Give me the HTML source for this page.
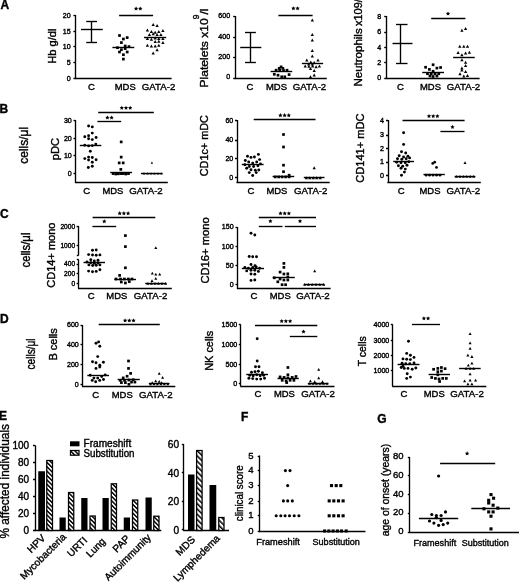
<!DOCTYPE html>
<html><head><meta charset="utf-8"><style>
html,body{margin:0;padding:0;background:#fff;}
svg{display:block;filter:blur(0.3px);}
text{font-family:"Liberation Sans", sans-serif;fill:#000;stroke:#000;stroke-width:0.38px;}
</style></head><body>
<svg width="520" height="582" viewBox="0 0 520 582">
<rect x="0" y="0" width="520" height="582" fill="#fff" stroke="none"/>
<g fill="#000">
<text x="0.50" y="8.60" font-size="12" font-weight="bold">A</text>
<text x="-0.50" y="112.90" font-size="12" font-weight="bold">B</text>
<text x="0.10" y="217.90" font-size="12" font-weight="bold">C</text>
<text x="0.10" y="322.70" font-size="12" font-weight="bold">D</text>
<text x="-0.90" y="420.40" font-size="12" font-weight="bold">E</text>
<text x="240.90" y="420.80" font-size="12" font-weight="bold">F</text>
<text x="377.30" y="422.50" font-size="12" font-weight="bold">G</text>
<line x1="75.50" y1="15.00" x2="75.50" y2="78.40" stroke="#000" stroke-width="1.35"/>
<line x1="73.40" y1="15.50" x2="75.40" y2="15.50" stroke="#000" stroke-width="1.35"/>
<text x="70.60" y="17.96" font-size="7.1" text-anchor="end">20</text>
<line x1="73.40" y1="31.50" x2="75.40" y2="31.50" stroke="#000" stroke-width="1.35"/>
<text x="70.60" y="33.96" font-size="7.1" text-anchor="end">15</text>
<line x1="73.40" y1="46.50" x2="75.40" y2="46.50" stroke="#000" stroke-width="1.35"/>
<text x="70.60" y="49.46" font-size="7.1" text-anchor="end">10</text>
<line x1="73.40" y1="62.50" x2="75.40" y2="62.50" stroke="#000" stroke-width="1.35"/>
<text x="70.60" y="65.26" font-size="7.1" text-anchor="end">5</text>
<line x1="73.40" y1="78.50" x2="75.40" y2="78.50" stroke="#000" stroke-width="1.35"/>
<text x="70.60" y="81.06" font-size="7.1" text-anchor="end">0</text>
<line x1="74.80" y1="78.50" x2="171.60" y2="78.50" stroke="#000" stroke-width="1.35"/>
<text x="91.50" y="90.20" font-size="9.6" text-anchor="middle" textLength="6.90" lengthAdjust="spacingAndGlyphs">C</text>
<text x="125.20" y="90.20" font-size="9.6" text-anchor="middle" textLength="21.00" lengthAdjust="spacingAndGlyphs">MDS</text>
<text x="158.60" y="90.20" font-size="9.6" text-anchor="middle" textLength="33.50" lengthAdjust="spacingAndGlyphs">GATA-2</text>
<text transform="translate(55.80,46.20) rotate(-90)" x="0" y="0" font-size="11" text-anchor="middle" textLength="35.20" lengthAdjust="spacingAndGlyphs">Hb g/dl</text>
<line x1="81.00" y1="29.50" x2="102.80" y2="29.50" stroke="#000" stroke-width="1.4"/>
<line x1="91.50" y1="21.70" x2="91.50" y2="42.20" stroke="#000" stroke-width="1.35"/>
<line x1="86.20" y1="21.50" x2="97.00" y2="21.50" stroke="#000" stroke-width="1.35"/>
<line x1="86.20" y1="42.50" x2="97.00" y2="42.50" stroke="#000" stroke-width="1.35"/>
<rect x="118.15" y="34.15" width="2.7" height="2.7"/>
<rect x="122.05" y="37.65" width="2.7" height="2.7"/>
<rect x="125.85" y="36.25" width="2.7" height="2.7"/>
<rect x="120.05" y="41.25" width="2.7" height="2.7"/>
<rect x="123.85" y="44.65" width="2.7" height="2.7"/>
<rect x="127.65" y="45.25" width="2.7" height="2.7"/>
<rect x="116.15" y="46.35" width="2.7" height="2.7"/>
<rect x="120.05" y="48.35" width="2.7" height="2.7"/>
<rect x="123.85" y="47.25" width="2.7" height="2.7"/>
<rect x="118.15" y="50.65" width="2.7" height="2.7"/>
<rect x="125.85" y="50.65" width="2.7" height="2.7"/>
<rect x="122.05" y="53.35" width="2.7" height="2.7"/>
<rect x="122.05" y="57.75" width="2.7" height="2.7"/>
<line x1="112.40" y1="47.50" x2="134.30" y2="47.50" stroke="#000" stroke-width="1.4"/>
<path d="M153.20,22.91L154.85,25.88L151.55,25.88Z"/>
<path d="M157.10,24.02L158.75,26.98L155.45,26.98Z"/>
<path d="M147.40,28.62L149.05,31.59L145.75,31.59Z"/>
<path d="M151.40,30.12L153.05,33.09L149.75,33.09Z"/>
<path d="M155.20,30.72L156.85,33.69L153.55,33.69Z"/>
<path d="M158.80,30.12L160.45,33.09L157.15,33.09Z"/>
<path d="M162.90,29.02L164.55,31.98L161.25,31.98Z"/>
<path d="M149.40,33.02L151.05,35.98L147.75,35.98Z"/>
<path d="M153.20,32.31L154.85,35.28L151.55,35.28Z"/>
<path d="M157.10,33.02L158.75,35.98L155.45,35.98Z"/>
<path d="M160.90,33.02L162.55,35.98L159.25,35.98Z"/>
<path d="M147.40,37.12L149.05,40.09L145.75,40.09Z"/>
<path d="M151.40,37.72L153.05,40.69L149.75,40.69Z"/>
<path d="M155.20,36.62L156.85,39.59L153.55,39.59Z"/>
<path d="M158.80,37.12L160.45,40.09L157.15,40.09Z"/>
<path d="M162.90,37.12L164.55,40.09L161.25,40.09Z"/>
<path d="M155.20,40.12L156.85,43.09L153.55,43.09Z"/>
<path d="M158.80,39.72L160.45,42.69L157.15,42.69Z"/>
<path d="M162.90,41.12L164.55,44.09L161.25,44.09Z"/>
<path d="M147.40,43.81L149.05,46.78L145.75,46.78Z"/>
<path d="M151.40,44.52L153.05,47.48L149.75,47.48Z"/>
<path d="M155.20,44.52L156.85,47.48L153.55,47.48Z"/>
<path d="M158.80,43.81L160.45,46.78L157.15,46.78Z"/>
<path d="M157.10,48.22L158.75,51.19L155.45,51.19Z"/>
<path d="M153.20,51.62L154.85,54.59L151.55,54.59Z"/>
<line x1="144.00" y1="37.50" x2="166.20" y2="37.50" stroke="#000" stroke-width="1.4"/>
<line x1="119.10" y1="15.50" x2="153.10" y2="15.50" stroke="#000" stroke-width="1.35"/>
<polygon points="136.10,6.40 136.75,7.76 138.24,7.95 137.15,8.99 137.42,10.47 136.10,9.75 134.78,10.47 135.05,8.99 133.96,7.95 135.45,7.76"/>
<polygon points="140.30,6.40 140.95,7.76 142.44,7.95 141.35,8.99 141.62,10.47 140.30,9.75 138.98,10.47 139.25,8.99 138.16,7.95 139.65,7.76"/>
<line x1="235.50" y1="16.00" x2="235.50" y2="78.00" stroke="#000" stroke-width="1.35"/>
<line x1="233.20" y1="16.50" x2="235.20" y2="16.50" stroke="#000" stroke-width="1.35"/>
<text x="230.10" y="17.76" font-size="7.1" text-anchor="end">600</text>
<line x1="233.20" y1="37.50" x2="235.20" y2="37.50" stroke="#000" stroke-width="1.35"/>
<text x="230.10" y="38.66" font-size="7.1" text-anchor="end">400</text>
<line x1="233.20" y1="57.50" x2="235.20" y2="57.50" stroke="#000" stroke-width="1.35"/>
<text x="230.10" y="59.16" font-size="7.1" text-anchor="end">200</text>
<line x1="233.20" y1="78.50" x2="235.20" y2="78.50" stroke="#000" stroke-width="1.35"/>
<text x="230.10" y="79.36" font-size="7.1" text-anchor="end">0</text>
<line x1="234.60" y1="78.50" x2="326.80" y2="78.50" stroke="#000" stroke-width="1.35"/>
<text x="250.00" y="90.20" font-size="9.6" text-anchor="middle" textLength="6.90" lengthAdjust="spacingAndGlyphs">C</text>
<text x="276.50" y="90.20" font-size="9.6" text-anchor="middle" textLength="21.00" lengthAdjust="spacingAndGlyphs">MDS</text>
<text x="309.50" y="90.20" font-size="9.6" text-anchor="middle" textLength="33.50" lengthAdjust="spacingAndGlyphs">GATA-2</text>
<text transform="translate(207.60,87.50) rotate(-90)" x="0" y="0" font-size="11.5" textLength="69.20" lengthAdjust="spacingAndGlyphs">Platelets x10</text>
<text transform="translate(199.30,19.30) rotate(-90)" x="0" y="0" font-size="8.6">9</text>
<text transform="translate(207.60,14.40) rotate(-90)" x="0" y="0" font-size="11.5">/l</text>
<line x1="240.20" y1="47.50" x2="261.30" y2="47.50" stroke="#000" stroke-width="1.4"/>
<line x1="250.50" y1="32.00" x2="250.50" y2="62.80" stroke="#000" stroke-width="1.35"/>
<line x1="245.00" y1="32.50" x2="255.90" y2="32.50" stroke="#000" stroke-width="1.35"/>
<line x1="245.00" y1="62.50" x2="255.90" y2="62.50" stroke="#000" stroke-width="1.35"/>
<rect x="279.75" y="65.55" width="2.7" height="2.7"/>
<rect x="277.85" y="67.05" width="2.7" height="2.7"/>
<rect x="281.55" y="67.05" width="2.7" height="2.7"/>
<rect x="274.75" y="68.85" width="2.7" height="2.7"/>
<rect x="278.45" y="68.85" width="2.7" height="2.7"/>
<rect x="282.25" y="69.25" width="2.7" height="2.7"/>
<rect x="285.65" y="68.85" width="2.7" height="2.7"/>
<rect x="272.95" y="72.95" width="2.7" height="2.7"/>
<rect x="276.65" y="73.85" width="2.7" height="2.7"/>
<rect x="280.35" y="75.45" width="2.7" height="2.7"/>
<rect x="283.45" y="75.45" width="2.7" height="2.7"/>
<rect x="287.75" y="73.25" width="2.7" height="2.7"/>
<line x1="270.60" y1="71.50" x2="292.20" y2="71.50" stroke="#000" stroke-width="1.4"/>
<path d="M312.30,18.62L313.95,21.59L310.65,21.59Z"/>
<path d="M312.30,32.91L313.95,35.88L310.65,35.88Z"/>
<path d="M312.30,38.62L313.95,41.59L310.65,41.59Z"/>
<path d="M312.30,49.12L313.95,52.09L310.65,52.09Z"/>
<path d="M312.30,54.52L313.95,57.48L310.65,57.48Z"/>
<path d="M306.80,58.41L308.45,61.38L305.15,61.38Z"/>
<path d="M318.00,58.41L319.65,61.38L316.35,61.38Z"/>
<path d="M310.80,60.52L312.45,63.48L309.15,63.48Z"/>
<path d="M314.20,61.12L315.85,64.09L312.55,64.09Z"/>
<path d="M308.70,62.61L310.35,65.58L307.05,65.58Z"/>
<path d="M312.40,62.61L314.05,65.58L310.75,65.58Z"/>
<path d="M305.20,64.42L306.85,67.39L303.55,67.39Z"/>
<path d="M308.90,64.81L310.55,67.78L307.25,67.78Z"/>
<path d="M312.60,64.42L314.25,67.39L310.95,67.39Z"/>
<path d="M316.10,65.22L317.75,68.19L314.45,68.19Z"/>
<path d="M319.40,64.42L321.05,67.39L317.75,67.39Z"/>
<path d="M310.50,66.92L312.15,69.89L308.85,69.89Z"/>
<path d="M314.20,69.11L315.85,72.08L312.55,72.08Z"/>
<path d="M314.20,73.52L315.85,76.48L312.55,76.48Z"/>
<path d="M310.50,75.31L312.15,78.28L308.85,78.28Z"/>
<line x1="301.90" y1="63.50" x2="323.10" y2="63.50" stroke="#000" stroke-width="1.4"/>
<line x1="278.40" y1="15.50" x2="312.60" y2="15.50" stroke="#000" stroke-width="1.35"/>
<polygon points="293.40,6.20 294.05,7.56 295.54,7.75 294.45,8.79 294.72,10.27 293.40,9.55 292.08,10.27 292.35,8.79 291.26,7.75 292.75,7.56"/>
<polygon points="297.60,6.20 298.25,7.56 299.74,7.75 298.65,8.79 298.92,10.27 297.60,9.55 296.28,10.27 296.55,8.79 295.46,7.75 296.95,7.56"/>
<line x1="386.50" y1="16.00" x2="386.50" y2="78.10" stroke="#000" stroke-width="1.35"/>
<line x1="384.20" y1="16.50" x2="386.20" y2="16.50" stroke="#000" stroke-width="1.35"/>
<text x="381.30" y="18.76" font-size="7.1" text-anchor="end">8</text>
<line x1="384.20" y1="32.50" x2="386.20" y2="32.50" stroke="#000" stroke-width="1.35"/>
<text x="381.30" y="34.36" font-size="7.1" text-anchor="end">6</text>
<line x1="384.20" y1="47.50" x2="386.20" y2="47.50" stroke="#000" stroke-width="1.35"/>
<text x="381.30" y="49.86" font-size="7.1" text-anchor="end">4</text>
<line x1="384.20" y1="62.50" x2="386.20" y2="62.50" stroke="#000" stroke-width="1.35"/>
<text x="381.30" y="64.76" font-size="7.1" text-anchor="end">2</text>
<line x1="384.20" y1="78.50" x2="386.20" y2="78.50" stroke="#000" stroke-width="1.35"/>
<text x="381.30" y="80.46" font-size="7.1" text-anchor="end">0</text>
<line x1="385.60" y1="78.50" x2="479.60" y2="78.50" stroke="#000" stroke-width="1.35"/>
<text x="400.50" y="90.20" font-size="9.6" text-anchor="middle" textLength="6.90" lengthAdjust="spacingAndGlyphs">C</text>
<text x="430.50" y="90.20" font-size="9.6" text-anchor="middle" textLength="21.00" lengthAdjust="spacingAndGlyphs">MDS</text>
<text x="463.50" y="90.20" font-size="9.6" text-anchor="middle" textLength="33.50" lengthAdjust="spacingAndGlyphs">GATA-2</text>
<text transform="translate(362.10,86.60) rotate(-90)" x="0" y="0" font-size="11.0" textLength="58.30" lengthAdjust="spacingAndGlyphs">Neutrophils</text>
<text transform="translate(362.10,26.10) rotate(-90)" x="0" y="0" font-size="11.0">x109/l</text>
<line x1="392.50" y1="43.50" x2="412.50" y2="43.50" stroke="#000" stroke-width="1.4"/>
<line x1="400.50" y1="24.00" x2="400.50" y2="63.00" stroke="#000" stroke-width="1.35"/>
<line x1="396.00" y1="24.50" x2="407.50" y2="24.50" stroke="#000" stroke-width="1.35"/>
<line x1="396.00" y1="63.50" x2="407.50" y2="63.50" stroke="#000" stroke-width="1.35"/>
<rect x="431.75" y="63.40" width="2.7" height="2.7"/>
<rect x="424.25" y="65.90" width="2.7" height="2.7"/>
<rect x="428.05" y="68.05" width="2.7" height="2.7"/>
<rect x="435.55" y="66.75" width="2.7" height="2.7"/>
<rect x="439.25" y="66.15" width="2.7" height="2.7"/>
<rect x="431.75" y="69.90" width="2.7" height="2.7"/>
<rect x="426.15" y="72.40" width="2.7" height="2.7"/>
<rect x="429.90" y="72.40" width="2.7" height="2.7"/>
<rect x="433.65" y="72.40" width="2.7" height="2.7"/>
<rect x="437.40" y="72.40" width="2.7" height="2.7"/>
<rect x="428.65" y="74.65" width="2.7" height="2.7"/>
<rect x="431.75" y="75.15" width="2.7" height="2.7"/>
<rect x="435.55" y="74.65" width="2.7" height="2.7"/>
<line x1="422.25" y1="72.50" x2="444.00" y2="72.50" stroke="#000" stroke-width="1.4"/>
<path d="M461.90,28.82L463.55,31.79L460.25,31.79Z"/>
<path d="M465.60,27.02L467.25,29.98L463.95,29.98Z"/>
<path d="M459.80,44.81L461.45,47.78L458.15,47.78Z"/>
<path d="M463.80,44.81L465.45,47.78L462.15,47.78Z"/>
<path d="M467.50,44.81L469.15,47.78L465.85,47.78Z"/>
<path d="M458.10,51.02L459.75,53.98L456.45,53.98Z"/>
<path d="M461.90,53.31L463.55,56.28L460.25,56.28Z"/>
<path d="M465.60,51.62L467.25,54.59L463.95,54.59Z"/>
<path d="M469.40,50.81L471.05,53.78L467.75,53.78Z"/>
<path d="M461.90,58.31L463.55,61.28L460.25,61.28Z"/>
<path d="M465.60,60.81L467.25,63.78L463.95,63.78Z"/>
<path d="M465.60,64.11L467.25,67.08L463.95,67.08Z"/>
<path d="M461.90,66.61L463.55,69.58L460.25,69.58Z"/>
<path d="M461.90,68.52L463.55,71.48L460.25,71.48Z"/>
<path d="M465.60,70.02L467.25,72.98L463.95,72.98Z"/>
<path d="M460.00,72.31L461.65,75.28L458.35,75.28Z"/>
<path d="M463.80,74.52L465.45,77.48L462.15,77.48Z"/>
<path d="M467.50,74.11L469.15,77.08L465.85,77.08Z"/>
<line x1="453.10" y1="57.50" x2="474.75" y2="57.50" stroke="#000" stroke-width="1.4"/>
<line x1="431.20" y1="18.50" x2="465.40" y2="18.50" stroke="#000" stroke-width="1.35"/>
<polygon points="448.00,11.40 448.65,12.76 450.14,12.95 449.05,13.99 449.32,15.47 448.00,14.75 446.68,15.47 446.95,13.99 445.86,12.95 447.35,12.76"/>
<text transform="translate(27.90,145.35) rotate(-90)" x="0" y="0" font-size="12" text-anchor="middle" textLength="36.90" lengthAdjust="spacingAndGlyphs">cells/μl</text>
<line x1="75.50" y1="120.00" x2="75.50" y2="182.50" stroke="#000" stroke-width="1.35"/>
<line x1="73.50" y1="120.50" x2="75.50" y2="120.50" stroke="#000" stroke-width="1.35"/>
<text x="71.80" y="122.66" font-size="7.1" text-anchor="end">30</text>
<line x1="73.50" y1="138.50" x2="75.50" y2="138.50" stroke="#000" stroke-width="1.35"/>
<text x="71.80" y="140.56" font-size="7.1" text-anchor="end">20</text>
<line x1="73.50" y1="155.50" x2="75.50" y2="155.50" stroke="#000" stroke-width="1.35"/>
<text x="71.80" y="158.16" font-size="7.1" text-anchor="end">10</text>
<line x1="73.50" y1="173.50" x2="75.50" y2="173.50" stroke="#000" stroke-width="1.35"/>
<text x="71.80" y="175.66" font-size="7.1" text-anchor="end">0</text>
<line x1="74.90" y1="182.50" x2="167.80" y2="182.50" stroke="#000" stroke-width="1.35"/>
<text x="86.80" y="193.70" font-size="9.6" text-anchor="middle" textLength="6.90" lengthAdjust="spacingAndGlyphs">C</text>
<text x="112.90" y="193.70" font-size="9.6" text-anchor="middle" textLength="21.00" lengthAdjust="spacingAndGlyphs">MDS</text>
<text x="146.00" y="193.70" font-size="9.6" text-anchor="middle" textLength="33.50" lengthAdjust="spacingAndGlyphs">GATA-2</text>
<text transform="translate(58.60,149.00) rotate(-90)" x="0" y="0" font-size="11.2" text-anchor="middle" textLength="22.40" lengthAdjust="spacingAndGlyphs">pDC</text>
<circle cx="88.60" cy="126.00" r="1.45"/>
<circle cx="92.30" cy="126.90" r="1.45"/>
<circle cx="92.30" cy="133.10" r="1.45"/>
<circle cx="84.80" cy="136.70" r="1.45"/>
<circle cx="88.60" cy="135.80" r="1.45"/>
<circle cx="88.60" cy="138.70" r="1.45"/>
<circle cx="96.10" cy="137.50" r="1.45"/>
<circle cx="92.30" cy="139.60" r="1.45"/>
<circle cx="84.80" cy="145.20" r="1.45"/>
<circle cx="88.60" cy="145.90" r="1.45"/>
<circle cx="92.30" cy="145.60" r="1.45"/>
<circle cx="95.80" cy="144.10" r="1.45"/>
<circle cx="90.30" cy="151.30" r="1.45"/>
<circle cx="84.80" cy="158.60" r="1.45"/>
<circle cx="88.60" cy="157.10" r="1.45"/>
<circle cx="92.30" cy="157.50" r="1.45"/>
<circle cx="88.60" cy="160.00" r="1.45"/>
<circle cx="96.10" cy="159.80" r="1.45"/>
<circle cx="92.30" cy="162.30" r="1.45"/>
<circle cx="88.30" cy="167.50" r="1.45"/>
<circle cx="92.30" cy="166.30" r="1.45"/>
<line x1="79.80" y1="145.50" x2="101.30" y2="145.50" stroke="#000" stroke-width="1.4"/>
<rect x="119.85" y="140.55" width="2.7" height="2.7"/>
<rect x="119.85" y="155.75" width="2.7" height="2.7"/>
<rect x="117.85" y="161.55" width="2.7" height="2.7"/>
<rect x="121.85" y="161.55" width="2.7" height="2.7"/>
<rect x="119.45" y="168.05" width="2.7" height="2.7"/>
<rect x="111.75" y="172.25" width="2.7" height="2.7"/>
<rect x="114.35" y="172.65" width="2.7" height="2.7"/>
<rect x="116.95" y="172.45" width="2.7" height="2.7"/>
<rect x="119.45" y="172.25" width="2.7" height="2.7"/>
<rect x="121.95" y="172.25" width="2.7" height="2.7"/>
<rect x="124.45" y="172.65" width="2.7" height="2.7"/>
<rect x="127.15" y="172.25" width="2.7" height="2.7"/>
<line x1="110.20" y1="172.50" x2="132.10" y2="172.50" stroke="#000" stroke-width="1.4"/>
<path d="M144.00,172.23L145.30,174.57L142.70,174.57Z"/>
<path d="M147.50,172.23L148.80,174.57L146.20,174.57Z"/>
<path d="M151.00,172.23L152.30,174.57L149.70,174.57Z"/>
<path d="M154.50,172.23L155.80,174.57L153.20,174.57Z"/>
<path d="M158.00,172.23L159.30,174.57L156.70,174.57Z"/>
<path d="M161.50,172.23L162.80,174.57L160.20,174.57Z"/>
<path d="M151.90,161.52L153.10,163.68L150.70,163.68Z"/>
<line x1="141.00" y1="173.50" x2="162.50" y2="173.50" stroke="#000" stroke-width="1.4"/>
<line x1="97.40" y1="121.50" x2="121.20" y2="121.50" stroke="#000" stroke-width="1.35"/>
<polygon points="107.40,115.40 108.05,116.76 109.54,116.95 108.45,117.99 108.72,119.47 107.40,118.75 106.08,119.47 106.35,117.99 105.26,116.95 106.75,116.76"/>
<polygon points="111.60,115.40 112.25,116.76 113.74,116.95 112.65,117.99 112.92,119.47 111.60,118.75 110.28,119.47 110.55,117.99 109.46,116.95 110.95,116.76"/>
<line x1="98.20" y1="112.50" x2="153.80" y2="112.50" stroke="#000" stroke-width="1.35"/>
<polygon points="121.80,105.70 122.45,107.06 123.94,107.25 122.85,108.29 123.12,109.77 121.80,109.05 120.48,109.77 120.75,108.29 119.66,107.25 121.15,107.06"/>
<polygon points="126.00,105.70 126.65,107.06 128.14,107.25 127.05,108.29 127.32,109.77 126.00,109.05 124.68,109.77 124.95,108.29 123.86,107.25 125.35,107.06"/>
<polygon points="130.20,105.70 130.85,107.06 132.34,107.25 131.25,108.29 131.52,109.77 130.20,109.05 128.88,109.77 129.15,108.29 128.06,107.25 129.55,107.06"/>
<line x1="237.50" y1="120.00" x2="237.50" y2="182.20" stroke="#000" stroke-width="1.35"/>
<line x1="235.00" y1="120.50" x2="237.00" y2="120.50" stroke="#000" stroke-width="1.35"/>
<text x="233.30" y="122.66" font-size="7.1" text-anchor="end">60</text>
<line x1="235.00" y1="140.50" x2="237.00" y2="140.50" stroke="#000" stroke-width="1.35"/>
<text x="233.30" y="142.36" font-size="7.1" text-anchor="end">40</text>
<line x1="235.00" y1="158.50" x2="237.00" y2="158.50" stroke="#000" stroke-width="1.35"/>
<text x="233.30" y="161.16" font-size="7.1" text-anchor="end">20</text>
<line x1="235.00" y1="177.50" x2="237.00" y2="177.50" stroke="#000" stroke-width="1.35"/>
<text x="233.30" y="179.86" font-size="7.1" text-anchor="end">0</text>
<line x1="236.40" y1="182.50" x2="329.70" y2="182.50" stroke="#000" stroke-width="1.35"/>
<text x="251.00" y="193.70" font-size="9.6" text-anchor="middle" textLength="6.90" lengthAdjust="spacingAndGlyphs">C</text>
<text x="276.90" y="193.70" font-size="9.6" text-anchor="middle" textLength="21.00" lengthAdjust="spacingAndGlyphs">MDS</text>
<text x="310.70" y="193.70" font-size="9.6" text-anchor="middle" textLength="33.50" lengthAdjust="spacingAndGlyphs">GATA-2</text>
<text transform="translate(208.40,145.70) rotate(-90)" x="0" y="0" font-size="10.9" text-anchor="middle" textLength="61.20" lengthAdjust="spacingAndGlyphs">CD1c+ mDC</text>
<circle cx="258.40" cy="154.40" r="1.45"/>
<circle cx="254.40" cy="157.00" r="1.45"/>
<circle cx="251.00" cy="157.40" r="1.45"/>
<circle cx="247.50" cy="156.20" r="1.45"/>
<circle cx="259.60" cy="159.60" r="1.45"/>
<circle cx="245.30" cy="160.50" r="1.45"/>
<circle cx="248.70" cy="161.90" r="1.45"/>
<circle cx="252.70" cy="163.10" r="1.45"/>
<circle cx="256.70" cy="161.90" r="1.45"/>
<circle cx="260.50" cy="163.90" r="1.45"/>
<circle cx="244.90" cy="164.80" r="1.45"/>
<circle cx="249.30" cy="166.50" r="1.45"/>
<circle cx="253.60" cy="166.50" r="1.45"/>
<circle cx="257.90" cy="165.70" r="1.45"/>
<circle cx="246.70" cy="168.30" r="1.45"/>
<circle cx="251.00" cy="169.70" r="1.45"/>
<circle cx="255.30" cy="170.30" r="1.45"/>
<circle cx="258.80" cy="170.00" r="1.45"/>
<circle cx="249.30" cy="172.60" r="1.45"/>
<circle cx="256.20" cy="172.60" r="1.45"/>
<circle cx="252.70" cy="175.50" r="1.45"/>
<line x1="241.80" y1="164.50" x2="263.60" y2="164.50" stroke="#000" stroke-width="1.4"/>
<rect x="282.15" y="133.15" width="2.7" height="2.7"/>
<rect x="282.15" y="145.65" width="2.7" height="2.7"/>
<rect x="282.15" y="163.85" width="2.7" height="2.7"/>
<rect x="282.15" y="170.35" width="2.7" height="2.7"/>
<rect x="287.75" y="173.85" width="2.7" height="2.7"/>
<rect x="273.85" y="175.55" width="2.7" height="2.7"/>
<rect x="277.35" y="175.55" width="2.7" height="2.7"/>
<rect x="280.75" y="175.55" width="2.7" height="2.7"/>
<rect x="284.25" y="175.55" width="2.7" height="2.7"/>
<rect x="287.75" y="175.55" width="2.7" height="2.7"/>
<line x1="272.60" y1="176.50" x2="294.20" y2="176.50" stroke="#000" stroke-width="1.4"/>
<path d="M314.20,166.21L315.85,169.19L312.55,169.19Z"/>
<path d="M306.40,176.31L308.05,179.29L304.75,179.29Z"/>
<path d="M309.80,176.31L311.45,179.29L308.15,179.29Z"/>
<path d="M313.30,176.31L314.95,179.29L311.65,179.29Z"/>
<path d="M316.70,176.31L318.35,179.29L315.05,179.29Z"/>
<path d="M320.20,176.31L321.85,179.29L318.55,179.29Z"/>
<line x1="303.80" y1="177.50" x2="324.50" y2="177.50" stroke="#000" stroke-width="1.4"/>
<line x1="253.70" y1="119.50" x2="315.50" y2="119.50" stroke="#000" stroke-width="1.35"/>
<polygon points="280.40,113.10 281.05,114.46 282.54,114.65 281.45,115.69 281.72,117.17 280.40,116.45 279.08,117.17 279.35,115.69 278.26,114.65 279.75,114.46"/>
<polygon points="284.60,113.10 285.25,114.46 286.74,114.65 285.65,115.69 285.92,117.17 284.60,116.45 283.28,117.17 283.55,115.69 282.46,114.65 283.95,114.46"/>
<polygon points="288.80,113.10 289.45,114.46 290.94,114.65 289.85,115.69 290.12,117.17 288.80,116.45 287.48,117.17 287.75,115.69 286.66,114.65 288.15,114.46"/>
<line x1="388.50" y1="120.00" x2="388.50" y2="182.60" stroke="#000" stroke-width="1.35"/>
<line x1="386.00" y1="120.50" x2="388.00" y2="120.50" stroke="#000" stroke-width="1.35"/>
<text x="384.00" y="122.86" font-size="7.1" text-anchor="end">4</text>
<line x1="386.00" y1="135.50" x2="388.00" y2="135.50" stroke="#000" stroke-width="1.35"/>
<text x="384.00" y="137.36" font-size="7.1" text-anchor="end">3</text>
<line x1="386.00" y1="148.50" x2="388.00" y2="148.50" stroke="#000" stroke-width="1.35"/>
<text x="384.00" y="150.86" font-size="7.1" text-anchor="end">2</text>
<line x1="386.00" y1="162.50" x2="388.00" y2="162.50" stroke="#000" stroke-width="1.35"/>
<text x="384.00" y="164.36" font-size="7.1" text-anchor="end">1</text>
<line x1="386.00" y1="175.50" x2="388.00" y2="175.50" stroke="#000" stroke-width="1.35"/>
<text x="384.00" y="178.06" font-size="7.1" text-anchor="end">0</text>
<line x1="387.40" y1="182.50" x2="480.80" y2="182.50" stroke="#000" stroke-width="1.35"/>
<text x="401.30" y="193.70" font-size="9.6" text-anchor="middle" textLength="6.90" lengthAdjust="spacingAndGlyphs">C</text>
<text x="430.00" y="193.70" font-size="9.6" text-anchor="middle" textLength="21.00" lengthAdjust="spacingAndGlyphs">MDS</text>
<text x="463.30" y="193.70" font-size="9.6" text-anchor="middle" textLength="33.50" lengthAdjust="spacingAndGlyphs">GATA-2</text>
<text transform="translate(364.20,148.15) rotate(-90)" x="0" y="0" font-size="11" text-anchor="middle" textLength="69.30" lengthAdjust="spacingAndGlyphs">CD141+ mDC</text>
<circle cx="403.60" cy="132.80" r="1.45"/>
<circle cx="403.60" cy="144.40" r="1.45"/>
<circle cx="401.50" cy="151.80" r="1.45"/>
<circle cx="405.70" cy="153.00" r="1.45"/>
<circle cx="399.20" cy="155.80" r="1.45"/>
<circle cx="403.60" cy="157.00" r="1.45"/>
<circle cx="407.90" cy="156.20" r="1.45"/>
<circle cx="397.50" cy="158.70" r="1.45"/>
<circle cx="401.80" cy="159.30" r="1.45"/>
<circle cx="406.20" cy="158.70" r="1.45"/>
<circle cx="409.60" cy="157.90" r="1.45"/>
<circle cx="396.70" cy="162.20" r="1.45"/>
<circle cx="401.00" cy="162.70" r="1.45"/>
<circle cx="405.30" cy="162.70" r="1.45"/>
<circle cx="408.80" cy="161.70" r="1.45"/>
<circle cx="398.40" cy="165.70" r="1.45"/>
<circle cx="402.70" cy="166.20" r="1.45"/>
<circle cx="407.00" cy="165.20" r="1.45"/>
<circle cx="401.00" cy="168.30" r="1.45"/>
<circle cx="405.30" cy="169.10" r="1.45"/>
<circle cx="404.40" cy="172.10" r="1.45"/>
<circle cx="401.50" cy="175.20" r="1.45"/>
<line x1="393.20" y1="161.50" x2="414.00" y2="161.50" stroke="#000" stroke-width="1.4"/>
<circle cx="432.70" cy="163.40" r="1.35"/>
<circle cx="434.70" cy="162.20" r="1.35"/>
<circle cx="436.50" cy="167.40" r="1.35"/>
<circle cx="426.10" cy="175.20" r="1.35"/>
<circle cx="429.50" cy="175.20" r="1.35"/>
<circle cx="433.00" cy="175.20" r="1.35"/>
<circle cx="436.50" cy="175.20" r="1.35"/>
<circle cx="439.90" cy="175.20" r="1.35"/>
<line x1="423.50" y1="174.50" x2="444.80" y2="174.50" stroke="#000" stroke-width="1.4"/>
<path d="M465.00,161.35L466.50,164.05L463.50,164.05Z"/>
<path d="M456.40,175.05L457.90,177.75L454.90,177.75Z"/>
<path d="M459.90,175.05L461.40,177.75L458.40,177.75Z"/>
<path d="M463.30,175.05L464.80,177.75L461.80,177.75Z"/>
<path d="M466.80,175.05L468.30,177.75L465.30,177.75Z"/>
<path d="M470.20,175.05L471.70,177.75L468.70,177.75Z"/>
<path d="M473.70,175.05L475.20,177.75L472.20,177.75Z"/>
<line x1="454.60" y1="176.50" x2="475.40" y2="176.50" stroke="#000" stroke-width="1.4"/>
<line x1="402.50" y1="120.50" x2="464.60" y2="120.50" stroke="#000" stroke-width="1.35"/>
<polygon points="429.00,113.90 429.65,115.26 431.14,115.45 430.05,116.49 430.32,117.97 429.00,117.25 427.68,117.97 427.95,116.49 426.86,115.45 428.35,115.26"/>
<polygon points="433.20,113.90 433.85,115.26 435.34,115.45 434.25,116.49 434.52,117.97 433.20,117.25 431.88,117.97 432.15,116.49 431.06,115.45 432.55,115.26"/>
<polygon points="437.40,113.90 438.05,115.26 439.54,115.45 438.45,116.49 438.72,117.97 437.40,117.25 436.08,117.97 436.35,116.49 435.26,115.45 436.75,115.26"/>
<line x1="440.40" y1="131.50" x2="464.50" y2="131.50" stroke="#000" stroke-width="1.35"/>
<polygon points="452.50,124.80 453.15,126.16 454.64,126.35 453.55,127.39 453.82,128.87 452.50,128.15 451.18,128.87 451.45,127.39 450.36,126.35 451.85,126.16"/>
<text transform="translate(30.20,250.05) rotate(-90)" x="0" y="0" font-size="12" text-anchor="middle" textLength="34.90" lengthAdjust="spacingAndGlyphs">cells/μl</text>
<line x1="78.50" y1="226.00" x2="78.50" y2="255.50" stroke="#000" stroke-width="1.35"/>
<line x1="78.50" y1="259.40" x2="78.50" y2="288.20" stroke="#000" stroke-width="1.35"/>
<line x1="76.80" y1="255.50" x2="78.60" y2="255.50" stroke="#000" stroke-width="1.35"/>
<line x1="76.80" y1="259.50" x2="78.60" y2="259.50" stroke="#000" stroke-width="1.35"/>
<line x1="76.60" y1="226.50" x2="78.60" y2="226.50" stroke="#000" stroke-width="1.35"/>
<text x="75.10" y="228.60" font-size="6.6" text-anchor="end">2000</text>
<line x1="76.60" y1="245.50" x2="78.60" y2="245.50" stroke="#000" stroke-width="1.35"/>
<text x="75.10" y="248.20" font-size="6.6" text-anchor="end">1000</text>
<line x1="76.60" y1="264.50" x2="78.60" y2="264.50" stroke="#000" stroke-width="1.35"/>
<text x="75.10" y="266.40" font-size="6.6" text-anchor="end">400</text>
<line x1="76.60" y1="273.50" x2="78.60" y2="273.50" stroke="#000" stroke-width="1.35"/>
<text x="75.10" y="276.00" font-size="6.6" text-anchor="end">200</text>
<line x1="76.60" y1="283.50" x2="78.60" y2="283.50" stroke="#000" stroke-width="1.35"/>
<text x="75.10" y="285.80" font-size="6.6" text-anchor="end">0</text>
<line x1="78.00" y1="288.50" x2="171.80" y2="288.50" stroke="#000" stroke-width="1.35"/>
<text x="91.20" y="299.00" font-size="9.6" text-anchor="middle" textLength="6.90" lengthAdjust="spacingAndGlyphs">C</text>
<text x="116.80" y="299.00" font-size="9.6" text-anchor="middle" textLength="21.00" lengthAdjust="spacingAndGlyphs">MDS</text>
<text x="150.60" y="299.00" font-size="9.6" text-anchor="middle" textLength="33.50" lengthAdjust="spacingAndGlyphs">GATA-2</text>
<text transform="translate(54.90,255.15) rotate(-90)" x="0" y="0" font-size="11" text-anchor="middle" textLength="65.10" lengthAdjust="spacingAndGlyphs">CD14+ mono</text>
<circle cx="92.50" cy="250.20" r="1.45"/>
<circle cx="96.20" cy="250.00" r="1.45"/>
<circle cx="88.60" cy="254.60" r="1.45"/>
<circle cx="92.50" cy="255.00" r="1.45"/>
<circle cx="96.20" cy="255.20" r="1.45"/>
<circle cx="99.90" cy="254.90" r="1.45"/>
<circle cx="90.80" cy="259.80" r="1.45"/>
<circle cx="94.30" cy="260.90" r="1.45"/>
<circle cx="98.00" cy="260.30" r="1.45"/>
<circle cx="87.00" cy="262.00" r="1.45"/>
<circle cx="90.80" cy="262.80" r="1.45"/>
<circle cx="94.30" cy="263.30" r="1.45"/>
<circle cx="98.00" cy="263.00" r="1.45"/>
<circle cx="88.90" cy="264.90" r="1.45"/>
<circle cx="92.70" cy="265.50" r="1.45"/>
<circle cx="96.20" cy="265.20" r="1.45"/>
<circle cx="99.90" cy="264.90" r="1.45"/>
<circle cx="99.90" cy="269.80" r="1.45"/>
<circle cx="88.60" cy="271.10" r="1.45"/>
<circle cx="92.50" cy="271.70" r="1.45"/>
<circle cx="96.20" cy="271.40" r="1.45"/>
<line x1="83.50" y1="262.50" x2="105.00" y2="262.50" stroke="#000" stroke-width="1.4"/>
<rect x="124.05" y="234.25" width="2.7" height="2.7"/>
<rect x="124.05" y="245.25" width="2.7" height="2.7"/>
<rect x="124.05" y="266.45" width="2.7" height="2.7"/>
<rect x="118.25" y="274.05" width="2.7" height="2.7"/>
<rect x="114.65" y="277.65" width="2.7" height="2.7"/>
<rect x="119.15" y="277.65" width="2.7" height="2.7"/>
<rect x="123.05" y="277.65" width="2.7" height="2.7"/>
<rect x="127.05" y="277.65" width="2.7" height="2.7"/>
<rect x="130.65" y="277.65" width="2.7" height="2.7"/>
<rect x="119.95" y="280.65" width="2.7" height="2.7"/>
<rect x="124.05" y="281.65" width="2.7" height="2.7"/>
<rect x="127.95" y="280.25" width="2.7" height="2.7"/>
<line x1="114.30" y1="279.50" x2="136.00" y2="279.50" stroke="#000" stroke-width="1.4"/>
<path d="M155.80,246.25L157.30,248.95L154.30,248.95Z"/>
<path d="M152.30,271.75L153.80,274.45L150.80,274.45Z"/>
<path d="M155.80,272.85L157.30,275.55L154.30,275.55Z"/>
<path d="M159.70,272.85L161.20,275.55L158.20,275.55Z"/>
<path d="M155.80,277.05L157.30,279.75L154.30,279.75Z"/>
<path d="M152.00,279.35L153.50,282.05L150.50,282.05Z"/>
<path d="M147.90,282.05L149.40,284.75L146.40,284.75Z"/>
<path d="M151.40,282.05L152.90,284.75L149.90,284.75Z"/>
<path d="M155.00,282.05L156.50,284.75L153.50,284.75Z"/>
<path d="M158.50,282.05L160.00,284.75L157.00,284.75Z"/>
<path d="M162.00,282.05L163.50,284.75L160.50,284.75Z"/>
<path d="M165.60,282.05L167.10,284.75L164.10,284.75Z"/>
<line x1="145.20" y1="283.50" x2="166.50" y2="283.50" stroke="#000" stroke-width="1.4"/>
<line x1="92.40" y1="226.50" x2="116.20" y2="226.50" stroke="#000" stroke-width="1.35"/>
<polygon points="104.30,219.20 104.95,220.56 106.44,220.75 105.35,221.79 105.62,223.27 104.30,222.55 102.98,223.27 103.25,221.79 102.16,220.75 103.65,220.56"/>
<line x1="92.60" y1="217.50" x2="155.30" y2="217.50" stroke="#000" stroke-width="1.35"/>
<polygon points="119.70,211.10 120.35,212.46 121.84,212.65 120.75,213.69 121.02,215.17 119.70,214.45 118.38,215.17 118.65,213.69 117.56,212.65 119.05,212.46"/>
<polygon points="123.90,211.10 124.55,212.46 126.04,212.65 124.95,213.69 125.22,215.17 123.90,214.45 122.58,215.17 122.85,213.69 121.76,212.65 123.25,212.46"/>
<polygon points="128.10,211.10 128.75,212.46 130.24,212.65 129.15,213.69 129.42,215.17 128.10,214.45 126.78,215.17 127.05,213.69 125.96,212.65 127.45,212.46"/>
<line x1="237.50" y1="227.00" x2="237.50" y2="288.40" stroke="#000" stroke-width="1.35"/>
<line x1="235.50" y1="227.50" x2="237.50" y2="227.50" stroke="#000" stroke-width="1.35"/>
<text x="233.70" y="229.36" font-size="7.1" text-anchor="end">150</text>
<line x1="235.50" y1="246.50" x2="237.50" y2="246.50" stroke="#000" stroke-width="1.35"/>
<text x="233.70" y="248.66" font-size="7.1" text-anchor="end">100</text>
<line x1="235.50" y1="265.50" x2="237.50" y2="265.50" stroke="#000" stroke-width="1.35"/>
<text x="233.70" y="268.06" font-size="7.1" text-anchor="end">50</text>
<line x1="235.50" y1="284.50" x2="237.50" y2="284.50" stroke="#000" stroke-width="1.35"/>
<text x="233.70" y="286.86" font-size="7.1" text-anchor="end">0</text>
<line x1="236.90" y1="288.50" x2="330.60" y2="288.50" stroke="#000" stroke-width="1.35"/>
<text x="253.90" y="299.00" font-size="9.6" text-anchor="middle" textLength="6.90" lengthAdjust="spacingAndGlyphs">C</text>
<text x="280.20" y="299.00" font-size="9.6" text-anchor="middle" textLength="21.00" lengthAdjust="spacingAndGlyphs">MDS</text>
<text x="313.00" y="299.00" font-size="9.6" text-anchor="middle" textLength="33.50" lengthAdjust="spacingAndGlyphs">GATA-2</text>
<text transform="translate(208.50,250.40) rotate(-90)" x="0" y="0" font-size="11" text-anchor="middle" textLength="66.40" lengthAdjust="spacingAndGlyphs">CD16+ mono</text>
<circle cx="251.00" cy="233.30" r="1.45"/>
<circle cx="254.80" cy="235.00" r="1.45"/>
<circle cx="249.20" cy="256.50" r="1.45"/>
<circle cx="252.70" cy="256.70" r="1.45"/>
<circle cx="256.50" cy="256.70" r="1.45"/>
<circle cx="251.00" cy="264.50" r="1.45"/>
<circle cx="255.00" cy="265.70" r="1.45"/>
<circle cx="244.90" cy="267.40" r="1.45"/>
<circle cx="248.40" cy="268.30" r="1.45"/>
<circle cx="252.70" cy="267.40" r="1.45"/>
<circle cx="256.20" cy="266.90" r="1.45"/>
<circle cx="259.60" cy="268.30" r="1.45"/>
<circle cx="246.70" cy="270.90" r="1.45"/>
<circle cx="251.00" cy="270.30" r="1.45"/>
<circle cx="254.80" cy="270.30" r="1.45"/>
<circle cx="258.40" cy="271.40" r="1.45"/>
<circle cx="251.00" cy="274.00" r="1.45"/>
<circle cx="254.80" cy="274.30" r="1.45"/>
<circle cx="251.00" cy="280.40" r="1.45"/>
<circle cx="254.80" cy="280.00" r="1.45"/>
<line x1="241.80" y1="268.50" x2="264.00" y2="268.50" stroke="#000" stroke-width="1.4"/>
<rect x="282.55" y="262.05" width="2.7" height="2.7"/>
<rect x="282.55" y="266.05" width="2.7" height="2.7"/>
<rect x="278.75" y="270.75" width="2.7" height="2.7"/>
<rect x="282.55" y="272.65" width="2.7" height="2.7"/>
<rect x="286.45" y="272.45" width="2.7" height="2.7"/>
<rect x="286.45" y="275.55" width="2.7" height="2.7"/>
<rect x="272.95" y="276.45" width="2.7" height="2.7"/>
<rect x="278.75" y="277.65" width="2.7" height="2.7"/>
<rect x="282.55" y="278.65" width="2.7" height="2.7"/>
<rect x="276.45" y="280.45" width="2.7" height="2.7"/>
<rect x="286.45" y="278.65" width="2.7" height="2.7"/>
<rect x="280.75" y="283.35" width="2.7" height="2.7"/>
<rect x="284.25" y="283.35" width="2.7" height="2.7"/>
<line x1="272.60" y1="277.50" x2="294.80" y2="277.50" stroke="#000" stroke-width="1.4"/>
<path d="M314.70,269.55L316.20,272.25L313.20,272.25Z"/>
<path d="M304.60,283.05L306.10,285.75L303.10,285.75Z"/>
<path d="M308.40,283.05L309.90,285.75L306.90,285.75Z"/>
<path d="M312.20,283.05L313.70,285.75L310.70,285.75Z"/>
<path d="M316.00,283.05L317.50,285.75L314.50,285.75Z"/>
<path d="M319.80,283.05L321.30,285.75L318.30,285.75Z"/>
<path d="M323.70,283.05L325.20,285.75L322.20,285.75Z"/>
<line x1="303.80" y1="284.50" x2="324.50" y2="284.50" stroke="#000" stroke-width="1.4"/>
<line x1="258.80" y1="217.50" x2="316.00" y2="217.50" stroke="#000" stroke-width="1.35"/>
<polygon points="280.50,211.20 281.15,212.56 282.64,212.75 281.55,213.79 281.82,215.27 280.50,214.55 279.18,215.27 279.45,213.79 278.36,212.75 279.85,212.56"/>
<polygon points="284.70,211.20 285.35,212.56 286.84,212.75 285.75,213.79 286.02,215.27 284.70,214.55 283.38,215.27 283.65,213.79 282.56,212.75 284.05,212.56"/>
<polygon points="288.90,211.20 289.55,212.56 291.04,212.75 289.95,213.79 290.22,215.27 288.90,214.55 287.58,215.27 287.85,213.79 286.76,212.75 288.25,212.56"/>
<line x1="258.80" y1="226.50" x2="282.50" y2="226.50" stroke="#000" stroke-width="1.35"/>
<polygon points="270.40,218.90 271.05,220.26 272.54,220.45 271.45,221.49 271.72,222.97 270.40,222.25 269.08,222.97 269.35,221.49 268.26,220.45 269.75,220.26"/>
<line x1="284.80" y1="226.50" x2="316.00" y2="226.50" stroke="#000" stroke-width="1.35"/>
<polygon points="300.00,218.90 300.65,220.26 302.14,220.45 301.05,221.49 301.32,222.97 300.00,222.25 298.68,222.97 298.95,221.49 297.86,220.45 299.35,220.26"/>
<text transform="translate(34.50,354.00) rotate(-90)" x="0" y="0" font-size="12" text-anchor="middle" textLength="31.00" lengthAdjust="spacingAndGlyphs">cells/μl</text>
<line x1="82.50" y1="325.00" x2="82.50" y2="386.30" stroke="#000" stroke-width="1.35"/>
<line x1="80.50" y1="325.50" x2="82.50" y2="325.50" stroke="#000" stroke-width="1.35"/>
<text x="78.80" y="327.36" font-size="7.1" text-anchor="end">600</text>
<line x1="80.50" y1="344.50" x2="82.50" y2="344.50" stroke="#000" stroke-width="1.35"/>
<text x="78.80" y="346.86" font-size="7.1" text-anchor="end">400</text>
<line x1="80.50" y1="364.50" x2="82.50" y2="364.50" stroke="#000" stroke-width="1.35"/>
<text x="78.80" y="366.66" font-size="7.1" text-anchor="end">200</text>
<line x1="80.50" y1="384.50" x2="82.50" y2="384.50" stroke="#000" stroke-width="1.35"/>
<text x="78.80" y="386.66" font-size="7.1" text-anchor="end">0</text>
<line x1="81.90" y1="386.50" x2="175.30" y2="386.50" stroke="#000" stroke-width="1.35"/>
<text x="95.80" y="398.00" font-size="9.6" text-anchor="middle" textLength="6.90" lengthAdjust="spacingAndGlyphs">C</text>
<text x="122.20" y="398.00" font-size="9.6" text-anchor="middle" textLength="21.00" lengthAdjust="spacingAndGlyphs">MDS</text>
<text x="155.80" y="398.00" font-size="9.6" text-anchor="middle" textLength="33.50" lengthAdjust="spacingAndGlyphs">GATA-2</text>
<text transform="translate(57.40,344.40) rotate(-90)" x="0" y="0" font-size="11" text-anchor="middle" textLength="32.40" lengthAdjust="spacingAndGlyphs">B cells</text>
<circle cx="96.00" cy="343.30" r="1.45"/>
<circle cx="98.60" cy="341.90" r="1.45"/>
<circle cx="99.80" cy="346.20" r="1.45"/>
<circle cx="97.70" cy="356.60" r="1.45"/>
<circle cx="92.50" cy="361.80" r="1.45"/>
<circle cx="96.00" cy="362.70" r="1.45"/>
<circle cx="103.40" cy="362.30" r="1.45"/>
<circle cx="99.80" cy="365.30" r="1.45"/>
<circle cx="99.80" cy="367.00" r="1.45"/>
<circle cx="96.00" cy="368.40" r="1.45"/>
<circle cx="90.20" cy="375.20" r="1.45"/>
<circle cx="93.90" cy="378.10" r="1.45"/>
<circle cx="92.20" cy="380.40" r="1.45"/>
<circle cx="97.70" cy="378.10" r="1.45"/>
<circle cx="99.70" cy="380.40" r="1.45"/>
<circle cx="95.70" cy="381.80" r="1.45"/>
<circle cx="103.50" cy="379.50" r="1.45"/>
<circle cx="101.70" cy="376.60" r="1.45"/>
<circle cx="105.20" cy="374.90" r="1.45"/>
<line x1="87.30" y1="375.50" x2="109.00" y2="375.50" stroke="#000" stroke-width="1.4"/>
<rect x="127.15" y="359.65" width="2.7" height="2.7"/>
<rect x="127.15" y="367.05" width="2.7" height="2.7"/>
<rect x="129.25" y="372.05" width="2.7" height="2.7"/>
<rect x="125.75" y="374.85" width="2.7" height="2.7"/>
<rect x="121.85" y="376.55" width="2.7" height="2.7"/>
<rect x="118.85" y="378.95" width="2.7" height="2.7"/>
<rect x="123.15" y="378.95" width="2.7" height="2.7"/>
<rect x="127.55" y="378.65" width="2.7" height="2.7"/>
<rect x="131.85" y="378.35" width="2.7" height="2.7"/>
<rect x="133.55" y="380.75" width="2.7" height="2.7"/>
<rect x="120.05" y="381.25" width="2.7" height="2.7"/>
<rect x="124.05" y="381.25" width="2.7" height="2.7"/>
<rect x="127.55" y="382.95" width="2.7" height="2.7"/>
<rect x="130.15" y="380.75" width="2.7" height="2.7"/>
<line x1="117.60" y1="379.50" x2="139.80" y2="379.50" stroke="#000" stroke-width="1.4"/>
<path d="M159.20,372.05L160.70,374.75L157.70,374.75Z"/>
<path d="M162.60,376.05L164.10,378.75L161.10,378.75Z"/>
<path d="M155.70,379.55L157.20,382.25L154.20,382.25Z"/>
<path d="M159.20,380.05L160.70,382.75L157.70,382.75Z"/>
<path d="M152.20,381.25L153.70,383.95L150.70,383.95Z"/>
<path d="M161.70,381.25L163.20,383.95L160.20,383.95Z"/>
<path d="M150.50,382.65L152.00,385.35L149.00,385.35Z"/>
<path d="M154.00,382.65L155.50,385.35L152.50,385.35Z"/>
<path d="M157.40,382.65L158.90,385.35L155.90,385.35Z"/>
<path d="M160.90,382.65L162.40,385.35L159.40,385.35Z"/>
<path d="M164.30,382.65L165.80,385.35L162.80,385.35Z"/>
<path d="M167.80,382.65L169.30,385.35L166.30,385.35Z"/>
<line x1="148.80" y1="383.50" x2="169.50" y2="383.50" stroke="#000" stroke-width="1.4"/>
<line x1="98.70" y1="324.50" x2="159.80" y2="324.50" stroke="#000" stroke-width="1.35"/>
<polygon points="125.10,318.30 125.75,319.66 127.24,319.85 126.15,320.89 126.42,322.37 125.10,321.65 123.78,322.37 124.05,320.89 122.96,319.85 124.45,319.66"/>
<polygon points="129.30,318.30 129.95,319.66 131.44,319.85 130.35,320.89 130.62,322.37 129.30,321.65 127.98,322.37 128.25,320.89 127.16,319.85 128.65,319.66"/>
<polygon points="133.50,318.30 134.15,319.66 135.64,319.85 134.55,320.89 134.82,322.37 133.50,321.65 132.18,322.37 132.45,320.89 131.36,319.85 132.85,319.66"/>
<line x1="240.50" y1="324.50" x2="240.50" y2="386.00" stroke="#000" stroke-width="1.35"/>
<line x1="238.80" y1="324.50" x2="240.80" y2="324.50" stroke="#000" stroke-width="1.35"/>
<text x="237.30" y="326.86" font-size="7.1" text-anchor="end">1500</text>
<line x1="238.80" y1="344.50" x2="240.80" y2="344.50" stroke="#000" stroke-width="1.35"/>
<text x="237.30" y="346.66" font-size="7.1" text-anchor="end">1000</text>
<line x1="238.80" y1="364.50" x2="240.80" y2="364.50" stroke="#000" stroke-width="1.35"/>
<text x="237.30" y="366.66" font-size="7.1" text-anchor="end">500</text>
<line x1="238.80" y1="383.50" x2="240.80" y2="383.50" stroke="#000" stroke-width="1.35"/>
<text x="237.30" y="386.16" font-size="7.1" text-anchor="end">0</text>
<line x1="240.20" y1="386.50" x2="334.50" y2="386.50" stroke="#000" stroke-width="1.35"/>
<text x="258.00" y="397.00" font-size="9.6" text-anchor="middle" textLength="6.90" lengthAdjust="spacingAndGlyphs">C</text>
<text x="284.40" y="397.00" font-size="9.6" text-anchor="middle" textLength="21.00" lengthAdjust="spacingAndGlyphs">MDS</text>
<text x="318.10" y="397.00" font-size="9.6" text-anchor="middle" textLength="33.50" lengthAdjust="spacingAndGlyphs">GATA-2</text>
<text transform="translate(212.50,350.80) rotate(-90)" x="0" y="0" font-size="11" text-anchor="middle" textLength="40.00" lengthAdjust="spacingAndGlyphs">NK cells</text>
<circle cx="257.20" cy="338.80" r="1.45"/>
<circle cx="257.20" cy="361.00" r="1.45"/>
<circle cx="255.50" cy="366.70" r="1.45"/>
<circle cx="259.00" cy="366.70" r="1.45"/>
<circle cx="251.50" cy="372.20" r="1.45"/>
<circle cx="255.00" cy="371.70" r="1.45"/>
<circle cx="258.40" cy="371.30" r="1.45"/>
<circle cx="262.40" cy="372.70" r="1.45"/>
<circle cx="249.80" cy="375.20" r="1.45"/>
<circle cx="253.20" cy="375.70" r="1.45"/>
<circle cx="256.70" cy="374.80" r="1.45"/>
<circle cx="260.20" cy="375.70" r="1.45"/>
<circle cx="263.60" cy="375.20" r="1.45"/>
<circle cx="248.90" cy="378.30" r="1.45"/>
<circle cx="252.70" cy="378.60" r="1.45"/>
<circle cx="256.70" cy="379.10" r="1.45"/>
<circle cx="260.70" cy="379.10" r="1.45"/>
<circle cx="264.50" cy="378.30" r="1.45"/>
<line x1="246.30" y1="374.50" x2="268.00" y2="374.50" stroke="#000" stroke-width="1.4"/>
<rect x="286.55" y="366.15" width="2.7" height="2.7"/>
<rect x="286.55" y="373.45" width="2.7" height="2.7"/>
<rect x="278.75" y="375.55" width="2.7" height="2.7"/>
<rect x="282.75" y="376.05" width="2.7" height="2.7"/>
<rect x="286.55" y="376.55" width="2.7" height="2.7"/>
<rect x="290.85" y="376.05" width="2.7" height="2.7"/>
<rect x="294.65" y="375.15" width="2.7" height="2.7"/>
<rect x="280.85" y="378.95" width="2.7" height="2.7"/>
<rect x="284.75" y="379.55" width="2.7" height="2.7"/>
<rect x="288.75" y="378.95" width="2.7" height="2.7"/>
<rect x="292.55" y="378.95" width="2.7" height="2.7"/>
<rect x="285.35" y="381.25" width="2.7" height="2.7"/>
<line x1="277.50" y1="378.50" x2="298.80" y2="378.50" stroke="#000" stroke-width="1.4"/>
<path d="M318.70,367.95L320.20,370.65L317.20,370.65Z"/>
<path d="M318.70,376.55L320.20,379.25L317.20,379.25Z"/>
<path d="M310.40,379.55L311.90,382.25L308.90,382.25Z"/>
<path d="M314.70,380.35L316.20,383.05L313.20,383.05Z"/>
<path d="M322.50,380.35L324.00,383.05L321.00,383.05Z"/>
<path d="M309.50,382.15L311.00,384.85L308.00,384.85Z"/>
<path d="M313.00,382.15L314.50,384.85L311.50,384.85Z"/>
<path d="M316.50,382.15L318.00,384.85L315.00,384.85Z"/>
<path d="M320.00,382.15L321.50,384.85L318.50,384.85Z"/>
<path d="M323.50,382.15L325.00,384.85L322.00,384.85Z"/>
<path d="M327.00,382.15L328.50,384.85L325.50,384.85Z"/>
<line x1="307.80" y1="383.50" x2="328.50" y2="383.50" stroke="#000" stroke-width="1.4"/>
<line x1="255.00" y1="325.50" x2="317.30" y2="325.50" stroke="#000" stroke-width="1.35"/>
<polygon points="281.70,319.00 282.35,320.36 283.84,320.55 282.75,321.59 283.02,323.07 281.70,322.35 280.38,323.07 280.65,321.59 279.56,320.55 281.05,320.36"/>
<polygon points="285.90,319.00 286.55,320.36 288.04,320.55 286.95,321.59 287.22,323.07 285.90,322.35 284.58,323.07 284.85,321.59 283.76,320.55 285.25,320.36"/>
<polygon points="290.10,319.00 290.75,320.36 292.24,320.55 291.15,321.59 291.42,323.07 290.10,322.35 288.78,323.07 289.05,321.59 287.96,320.55 289.45,320.36"/>
<line x1="289.80" y1="336.50" x2="317.30" y2="336.50" stroke="#000" stroke-width="1.35"/>
<polygon points="303.50,329.50 304.15,330.86 305.64,331.05 304.55,332.09 304.82,333.57 303.50,332.85 302.18,333.57 302.45,332.09 301.36,331.05 302.85,330.86"/>
<line x1="392.50" y1="324.50" x2="392.50" y2="386.30" stroke="#000" stroke-width="1.35"/>
<line x1="390.80" y1="324.50" x2="392.80" y2="324.50" stroke="#000" stroke-width="1.35"/>
<text x="389.30" y="326.86" font-size="7.1" text-anchor="end">4000</text>
<line x1="390.80" y1="340.50" x2="392.80" y2="340.50" stroke="#000" stroke-width="1.35"/>
<text x="389.30" y="342.66" font-size="7.1" text-anchor="end">3000</text>
<line x1="390.80" y1="355.50" x2="392.80" y2="355.50" stroke="#000" stroke-width="1.35"/>
<text x="389.30" y="357.96" font-size="7.1" text-anchor="end">2000</text>
<line x1="390.80" y1="370.50" x2="392.80" y2="370.50" stroke="#000" stroke-width="1.35"/>
<text x="389.30" y="373.16" font-size="7.1" text-anchor="end">1000</text>
<line x1="392.20" y1="386.50" x2="486.30" y2="386.50" stroke="#000" stroke-width="1.35"/>
<text x="404.00" y="397.00" font-size="9.6" text-anchor="middle" textLength="6.90" lengthAdjust="spacingAndGlyphs">C</text>
<text x="434.20" y="397.00" font-size="9.6" text-anchor="middle" textLength="21.00" lengthAdjust="spacingAndGlyphs">MDS</text>
<text x="467.10" y="397.00" font-size="9.6" text-anchor="middle" textLength="33.50" lengthAdjust="spacingAndGlyphs">GATA-2</text>
<text transform="translate(365.50,351.30) rotate(-90)" x="0" y="0" font-size="10.5" text-anchor="middle" textLength="30.00" lengthAdjust="spacingAndGlyphs">T cells</text>
<circle cx="408.50" cy="341.30" r="1.45"/>
<circle cx="406.70" cy="353.40" r="1.45"/>
<circle cx="410.40" cy="355.20" r="1.45"/>
<circle cx="414.00" cy="357.40" r="1.45"/>
<circle cx="403.00" cy="358.90" r="1.45"/>
<circle cx="406.70" cy="359.20" r="1.45"/>
<circle cx="410.40" cy="359.60" r="1.45"/>
<circle cx="402.10" cy="363.20" r="1.45"/>
<circle cx="405.80" cy="363.80" r="1.45"/>
<circle cx="409.80" cy="363.80" r="1.45"/>
<circle cx="414.00" cy="362.90" r="1.45"/>
<circle cx="401.20" cy="367.50" r="1.45"/>
<circle cx="404.30" cy="368.40" r="1.45"/>
<circle cx="408.00" cy="368.40" r="1.45"/>
<circle cx="412.20" cy="369.30" r="1.45"/>
<circle cx="415.80" cy="368.00" r="1.45"/>
<circle cx="407.20" cy="373.80" r="1.45"/>
<circle cx="406.70" cy="378.40" r="1.45"/>
<circle cx="410.40" cy="377.10" r="1.45"/>
<circle cx="403.00" cy="366.20" r="1.45"/>
<line x1="397.60" y1="364.50" x2="419.50" y2="364.50" stroke="#000" stroke-width="1.4"/>
<rect x="432.25" y="367.95" width="2.7" height="2.7"/>
<rect x="436.45" y="367.05" width="2.7" height="2.7"/>
<rect x="440.05" y="366.15" width="2.7" height="2.7"/>
<rect x="443.75" y="367.35" width="2.7" height="2.7"/>
<rect x="436.45" y="370.35" width="2.7" height="2.7"/>
<rect x="440.05" y="369.75" width="2.7" height="2.7"/>
<rect x="430.35" y="376.15" width="2.7" height="2.7"/>
<rect x="434.05" y="377.05" width="2.7" height="2.7"/>
<rect x="437.65" y="377.65" width="2.7" height="2.7"/>
<rect x="441.35" y="377.05" width="2.7" height="2.7"/>
<rect x="444.95" y="377.05" width="2.7" height="2.7"/>
<rect x="438.25" y="380.15" width="2.7" height="2.7"/>
<rect x="436.45" y="373.45" width="2.7" height="2.7"/>
<line x1="428.60" y1="374.50" x2="450.00" y2="374.50" stroke="#000" stroke-width="1.4"/>
<path d="M470.10,332.31L471.65,335.09L468.55,335.09Z"/>
<path d="M470.10,341.41L471.65,344.19L468.55,344.19Z"/>
<path d="M470.10,346.91L471.65,349.69L468.55,349.69Z"/>
<path d="M467.90,353.81L469.45,356.59L466.35,356.59Z"/>
<path d="M471.90,355.11L473.45,357.89L470.35,357.89Z"/>
<path d="M468.30,363.71L469.85,366.50L466.75,366.50Z"/>
<path d="M471.90,361.81L473.45,364.59L470.35,364.59Z"/>
<path d="M466.10,367.00L467.65,369.79L464.55,369.79Z"/>
<path d="M470.10,367.00L471.65,369.79L468.55,369.79Z"/>
<path d="M473.70,367.00L475.25,369.79L472.15,369.79Z"/>
<path d="M470.10,372.41L471.65,375.19L468.55,375.19Z"/>
<path d="M464.60,379.41L466.15,382.19L463.05,382.19Z"/>
<path d="M470.10,378.81L471.65,381.59L468.55,381.59Z"/>
<path d="M475.60,378.81L477.15,381.59L474.05,381.59Z"/>
<path d="M467.90,382.50L469.45,385.29L466.35,385.29Z"/>
<path d="M471.90,382.50L473.45,385.29L470.35,385.29Z"/>
<line x1="459.10" y1="368.50" x2="480.70" y2="368.50" stroke="#000" stroke-width="1.4"/>
<line x1="411.90" y1="324.50" x2="440.00" y2="324.50" stroke="#000" stroke-width="1.35"/>
<polygon points="423.90,316.20 424.55,317.56 426.04,317.75 424.95,318.79 425.22,320.27 423.90,319.55 422.58,320.27 422.85,318.79 421.76,317.75 423.25,317.56"/>
<polygon points="428.10,316.20 428.75,317.56 430.24,317.75 429.15,318.79 429.42,320.27 428.10,319.55 426.78,320.27 427.05,318.79 425.96,317.75 427.45,317.56"/>
<defs><pattern id="h" patternUnits="userSpaceOnUse" width="3.1" height="3.1" patternTransform="rotate(-45)"><rect width="3.1" height="3.1" fill="#fff"/><rect width="1.45" height="3.1" fill="#000"/></pattern><pattern id="h2" patternUnits="userSpaceOnUse" width="3.75" height="3.75" patternTransform="rotate(-45)"><rect width="3.75" height="3.75" fill="#fff"/><rect width="1.5" height="3.75" fill="#000"/></pattern></defs>
<line x1="35.50" y1="445.30" x2="35.50" y2="530.50" stroke="#000" stroke-width="1.35"/>
<line x1="33.00" y1="445.50" x2="35.00" y2="445.50" stroke="#000" stroke-width="1.35"/>
<text x="29.10" y="449.20" font-size="10" text-anchor="end">100</text>
<line x1="33.00" y1="462.50" x2="35.00" y2="462.50" stroke="#000" stroke-width="1.35"/>
<text x="29.10" y="466.00" font-size="10" text-anchor="end">80</text>
<line x1="33.00" y1="479.50" x2="35.00" y2="479.50" stroke="#000" stroke-width="1.35"/>
<text x="29.10" y="483.00" font-size="10" text-anchor="end">60</text>
<line x1="33.00" y1="496.50" x2="35.00" y2="496.50" stroke="#000" stroke-width="1.35"/>
<text x="29.10" y="500.20" font-size="10" text-anchor="end">40</text>
<line x1="33.00" y1="513.50" x2="35.00" y2="513.50" stroke="#000" stroke-width="1.35"/>
<text x="29.10" y="517.20" font-size="10" text-anchor="end">20</text>
<line x1="33.00" y1="530.50" x2="35.00" y2="530.50" stroke="#000" stroke-width="1.35"/>
<text x="29.10" y="534.00" font-size="10" text-anchor="end">0</text>
<line x1="34.40" y1="530.50" x2="161.30" y2="530.50" stroke="#000" stroke-width="1.35"/>
<rect x="38.25" y="471.25" width="6.75" height="59.25"/>
<rect x="46.75" y="460.50" width="5.75" height="70.00" fill="url(#h)" stroke="#000" stroke-width="1.25"/>
<rect x="59.50" y="517.50" width="6.25" height="13.00"/>
<rect x="68.50" y="492.50" width="5.25" height="38.00" fill="url(#h)" stroke="#000" stroke-width="1.25"/>
<rect x="81.25" y="498.00" width="6.25" height="32.50"/>
<rect x="90.00" y="516.00" width="5.25" height="14.50" fill="url(#h)" stroke="#000" stroke-width="1.25"/>
<rect x="102.50" y="498.00" width="6.25" height="32.50"/>
<rect x="111.25" y="483.80" width="5.25" height="46.70" fill="url(#h)" stroke="#000" stroke-width="1.25"/>
<rect x="123.75" y="517.50" width="6.25" height="13.00"/>
<rect x="132.50" y="500.00" width="5.25" height="30.50" fill="url(#h)" stroke="#000" stroke-width="1.25"/>
<rect x="145.50" y="497.50" width="6.25" height="33.00"/>
<rect x="153.75" y="516.20" width="5.25" height="14.30" fill="url(#h)" stroke="#000" stroke-width="1.25"/>
<rect x="70.00" y="441.30" width="9.50" height="5.00"/>
<rect x="70.50" y="450.50" width="8.50" height="4.70" fill="url(#h)" stroke="#000" stroke-width="1.25"/>
<text x="83.50" y="447.30" font-size="10" textLength="47.70" lengthAdjust="spacingAndGlyphs">Frameshift</text>
<text x="83.50" y="456.50" font-size="10" textLength="51.00" lengthAdjust="spacingAndGlyphs">Substitution</text>
<text transform="translate(9.00,481.30) rotate(-90)" x="0" y="0" font-size="12.4" text-anchor="middle" textLength="114.60" lengthAdjust="spacingAndGlyphs">% affected individuals</text>
<text transform="translate(46.00,538.80) rotate(-45)" font-size="10.1" text-anchor="end">HPV</text>
<text transform="translate(66.70,537.60) rotate(-45)" font-size="10.1" text-anchor="end">Mycobacteria</text>
<text transform="translate(87.90,541.00) rotate(-45)" font-size="10.1" text-anchor="end">URTI</text>
<text transform="translate(106.10,542.10) rotate(-45)" font-size="10.1" text-anchor="end">Lung</text>
<text transform="translate(130.40,539.20) rotate(-45)" font-size="10.1" text-anchor="end">PAP</text>
<text transform="translate(151.70,538.10) rotate(-45)" font-size="10.1" text-anchor="end">Autoimmunity</text>
<line x1="183.50" y1="444.00" x2="183.50" y2="530.50" stroke="#000" stroke-width="1.35"/>
<line x1="181.80" y1="444.50" x2="183.80" y2="444.50" stroke="#000" stroke-width="1.35"/>
<text x="179.20" y="448.47" font-size="10.2" text-anchor="end">60</text>
<line x1="181.80" y1="472.50" x2="183.80" y2="472.50" stroke="#000" stroke-width="1.35"/>
<text x="179.20" y="476.57" font-size="10.2" text-anchor="end">40</text>
<line x1="181.80" y1="501.50" x2="183.80" y2="501.50" stroke="#000" stroke-width="1.35"/>
<text x="179.20" y="505.17" font-size="10.2" text-anchor="end">20</text>
<line x1="181.80" y1="529.50" x2="183.80" y2="529.50" stroke="#000" stroke-width="1.35"/>
<text x="179.20" y="533.77" font-size="10.2" text-anchor="end">0</text>
<line x1="183.20" y1="530.50" x2="229.00" y2="530.50" stroke="#000" stroke-width="1.35"/>
<rect x="188.00" y="474.50" width="6.50" height="56.00"/>
<rect x="196.60" y="450.50" width="5.50" height="80.00" fill="url(#h2)" stroke="#000" stroke-width="1.25"/>
<rect x="209.50" y="485.00" width="6.75" height="45.50"/>
<rect x="218.75" y="517.50" width="5.25" height="13.00" fill="url(#h2)" stroke="#000" stroke-width="1.25"/>
<text transform="translate(195.70,540.30) rotate(-45)" font-size="10.1" text-anchor="end">MDS</text>
<text transform="translate(220.60,538.90) rotate(-45)" font-size="10.1" text-anchor="end">Lymphedema</text>
<line x1="259.50" y1="455.50" x2="259.50" y2="531.50" stroke="#000" stroke-width="1.35"/>
<line x1="257.70" y1="456.50" x2="259.70" y2="456.50" stroke="#000" stroke-width="1.35"/>
<text x="253.50" y="458.82" font-size="9.5" text-anchor="end">5</text>
<line x1="257.70" y1="470.50" x2="259.70" y2="470.50" stroke="#000" stroke-width="1.35"/>
<text x="253.50" y="473.42" font-size="9.5" text-anchor="end">4</text>
<line x1="257.70" y1="485.50" x2="259.70" y2="485.50" stroke="#000" stroke-width="1.35"/>
<text x="253.50" y="488.22" font-size="9.5" text-anchor="end">3</text>
<line x1="257.70" y1="501.50" x2="259.70" y2="501.50" stroke="#000" stroke-width="1.35"/>
<text x="253.50" y="503.62" font-size="9.5" text-anchor="end">2</text>
<line x1="257.70" y1="515.50" x2="259.70" y2="515.50" stroke="#000" stroke-width="1.35"/>
<text x="253.50" y="518.42" font-size="9.5" text-anchor="end">1</text>
<line x1="257.70" y1="531.50" x2="259.70" y2="531.50" stroke="#000" stroke-width="1.35"/>
<text x="253.50" y="533.82" font-size="9.5" text-anchor="end">0</text>
<line x1="259.10" y1="531.50" x2="365.50" y2="531.50" stroke="#000" stroke-width="1.35"/>
<text transform="translate(243.30,493.30) rotate(-90)" x="0" y="0" font-size="10.3" text-anchor="middle" textLength="55.80" lengthAdjust="spacingAndGlyphs">clinical score</text>
<text x="278.05" y="545.00" font-size="9.5" text-anchor="middle" textLength="43.60" lengthAdjust="spacingAndGlyphs">Frameshift</text>
<text x="336.20" y="545.00" font-size="9.5" text-anchor="middle" textLength="47.30" lengthAdjust="spacingAndGlyphs">Substitution</text>
<circle cx="285.40" cy="470.60" r="1.55"/>
<circle cx="290.00" cy="470.60" r="1.55"/>
<circle cx="287.70" cy="485.60" r="1.55"/>
<circle cx="283.40" cy="500.90" r="1.55"/>
<circle cx="287.70" cy="500.90" r="1.55"/>
<circle cx="292.30" cy="500.90" r="1.55"/>
<circle cx="276.20" cy="515.80" r="1.55"/>
<circle cx="280.80" cy="515.80" r="1.55"/>
<circle cx="285.10" cy="515.80" r="1.55"/>
<circle cx="289.50" cy="515.80" r="1.55"/>
<circle cx="294.20" cy="515.80" r="1.55"/>
<circle cx="298.90" cy="515.80" r="1.55"/>
<rect x="329.95" y="484.05" width="3.1" height="3.1"/>
<rect x="334.65" y="484.05" width="3.1" height="3.1"/>
<rect x="339.25" y="484.05" width="3.1" height="3.1"/>
<rect x="327.65" y="499.35" width="3.1" height="3.1"/>
<rect x="332.25" y="499.35" width="3.1" height="3.1"/>
<rect x="336.95" y="499.35" width="3.1" height="3.1"/>
<rect x="341.55" y="499.35" width="3.1" height="3.1"/>
<rect x="327.65" y="514.25" width="3.1" height="3.1"/>
<rect x="332.25" y="514.25" width="3.1" height="3.1"/>
<rect x="336.95" y="514.25" width="3.1" height="3.1"/>
<rect x="341.55" y="514.25" width="3.1" height="3.1"/>
<rect x="323.05" y="529.45" width="3.1" height="3.1"/>
<rect x="327.25" y="529.45" width="3.1" height="3.1"/>
<rect x="331.55" y="529.45" width="3.1" height="3.1"/>
<rect x="335.85" y="529.45" width="3.1" height="3.1"/>
<rect x="339.95" y="529.45" width="3.1" height="3.1"/>
<rect x="344.65" y="529.45" width="3.1" height="3.1"/>
<line x1="409.50" y1="457.00" x2="409.50" y2="532.60" stroke="#000" stroke-width="1.35"/>
<line x1="407.80" y1="457.50" x2="409.80" y2="457.50" stroke="#000" stroke-width="1.35"/>
<text x="403.60" y="458.82" font-size="9.5" text-anchor="end">80</text>
<line x1="407.80" y1="475.50" x2="409.80" y2="475.50" stroke="#000" stroke-width="1.35"/>
<text x="403.60" y="477.72" font-size="9.5" text-anchor="end">60</text>
<line x1="407.80" y1="494.50" x2="409.80" y2="494.50" stroke="#000" stroke-width="1.35"/>
<text x="403.60" y="496.72" font-size="9.5" text-anchor="end">40</text>
<line x1="407.80" y1="513.50" x2="409.80" y2="513.50" stroke="#000" stroke-width="1.35"/>
<text x="403.60" y="515.42" font-size="9.5" text-anchor="end">20</text>
<line x1="407.80" y1="532.50" x2="409.80" y2="532.50" stroke="#000" stroke-width="1.35"/>
<text x="403.60" y="534.32" font-size="9.5" text-anchor="end">0</text>
<line x1="409.20" y1="532.50" x2="519.00" y2="532.50" stroke="#000" stroke-width="1.35"/>
<text transform="translate(388.80,490.05) rotate(-90)" x="0" y="0" font-size="10.4" text-anchor="middle" textLength="92.50" lengthAdjust="spacingAndGlyphs">age of onset (years)</text>
<text x="434.85" y="546.00" font-size="9.5" text-anchor="middle" textLength="42.70" lengthAdjust="spacingAndGlyphs">Frameshift</text>
<text x="485.25" y="546.00" font-size="9.5" text-anchor="middle" textLength="47.00" lengthAdjust="spacingAndGlyphs">Substitution</text>
<circle cx="438.60" cy="476.00" r="1.6"/>
<circle cx="445.50" cy="511.90" r="1.6"/>
<circle cx="431.80" cy="514.50" r="1.6"/>
<circle cx="436.40" cy="515.50" r="1.6"/>
<circle cx="441.10" cy="515.50" r="1.6"/>
<circle cx="429.50" cy="521.00" r="1.6"/>
<circle cx="441.10" cy="520.40" r="1.6"/>
<circle cx="433.90" cy="523.10" r="1.6"/>
<circle cx="438.60" cy="525.30" r="1.6"/>
<circle cx="443.20" cy="524.60" r="1.6"/>
<circle cx="447.70" cy="523.10" r="1.6"/>
<circle cx="436.30" cy="517.60" r="1.6"/>
<line x1="418.90" y1="518.50" x2="458.20" y2="518.50" stroke="#000" stroke-width="1.4"/>
<rect x="489.45" y="493.05" width="3.1" height="3.1"/>
<rect x="492.05" y="496.65" width="3.1" height="3.1"/>
<rect x="487.15" y="498.75" width="3.1" height="3.1"/>
<rect x="487.15" y="501.45" width="3.1" height="3.1"/>
<rect x="491.55" y="503.65" width="3.1" height="3.1"/>
<rect x="482.45" y="507.25" width="3.1" height="3.1"/>
<rect x="496.25" y="506.55" width="3.1" height="3.1"/>
<rect x="487.15" y="510.35" width="3.1" height="3.1"/>
<rect x="491.55" y="510.35" width="3.1" height="3.1"/>
<rect x="489.45" y="514.65" width="3.1" height="3.1"/>
<rect x="489.45" y="527.35" width="3.1" height="3.1"/>
<line x1="471.30" y1="508.50" x2="510.00" y2="508.50" stroke="#000" stroke-width="1.4"/>
<line x1="440.10" y1="463.50" x2="495.20" y2="463.50" stroke="#000" stroke-width="1.35"/>
<polygon points="467.10,451.30 467.75,452.66 469.24,452.85 468.15,453.89 468.42,455.37 467.10,454.65 465.78,455.37 466.05,453.89 464.96,452.85 466.45,452.66"/>
</g>
</svg>
</body></html>
